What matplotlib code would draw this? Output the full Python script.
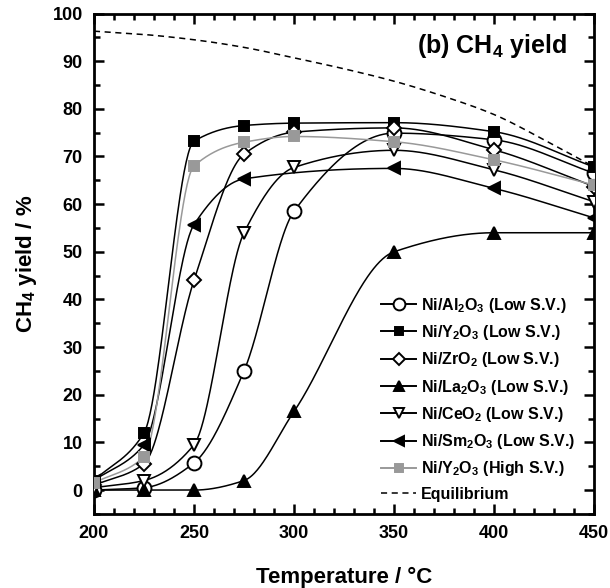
import numpy as np
import matplotlib
matplotlib.use("Agg")
import matplotlib.pyplot as plt
from matplotlib.ticker import MultipleLocator

plt.rcParams['font.family'] = ['Liberation Sans', 'DejaVu Sans']
plt.rcParams['font.weight'] = 'bold'
plt.rcParams['mathtext.fontset'] = 'custom'
plt.rcParams['mathtext.rm'] = 'Liberation Sans:bold'
plt.rcParams['mathtext.bf'] = 'Liberation Sans:bold'
plt.rcParams['mathtext.default'] = 'bf'

temps = [200, 225, 250, 275, 300, 350, 400, 450]
sm_temps = [200, 225, 250, 275, 350, 400, 450]

al2o3 = [0, 0.5, 5.7, 25, 58.5, 74.9, 73.5, 66.5]
y2o3_low = [2, 12, 73.2, 76.5, 77.0, 77.1, 75.2, 67.8]
zro2 = [1, 5.5, 44, 70.5, 75.1, 76, 71.4, 63.7]
la2o3 = [0, 0, 0, 2, 16.5, 50, 54, 54]
ceo2 = [0.5, 2, 9.5, 54, 67.7, 71.3, 67.2, 60.5]
sm2o3 = [2, 9.5, 55.7, 65.3, 67.5, 63.3, 57.1]
y2o3_high = [1.5, 7, 68, 73, 74.2, 73.1, 69.3, 64]

eq_temps = [200, 225, 250, 275, 300, 325, 350, 375, 400, 425, 450]
equilibrium = [96.3, 95.6, 94.5, 92.9, 90.7, 88.4, 85.8, 82.6, 78.8, 73.5, 67.8]


def pchip(x, y, xs):
    # monotone cubic, only used to draw smooth lines between the points
    x = np.asarray(x, float)
    y = np.asarray(y, float)
    h = np.diff(x)
    d = np.diff(y) / h
    n = len(x)
    m = np.zeros(n)
    for k in range(1, n - 1):
        if d[k - 1] * d[k] > 0:
            w1 = 2 * h[k] + h[k - 1]
            w2 = h[k] + 2 * h[k - 1]
            m[k] = (w1 + w2) / (w1 / d[k - 1] + w2 / d[k])
    m[0] = d[0]
    m[-1] = d[-1]
    idx = np.clip(np.searchsorted(x, xs) - 1, 0, n - 2)
    t = (xs - x[idx]) / h[idx]
    h00 = 2 * t**3 - 3 * t**2 + 1
    h10 = t**3 - 2 * t**2 + t
    h01 = -2 * t**3 + 3 * t**2
    h11 = t**3 - t**2
    return h00 * y[idx] + h10 * h[idx] * m[idx] + h01 * y[idx + 1] + h11 * h[idx] * m[idx + 1]


fig = plt.figure(figsize=(6.1, 5.88), dpi=100)
ax = fig.add_axes([0.154, 0.126, 0.820, 0.851])

xs = np.linspace(200, 450, 500)

series = [
    (temps, al2o3, 'Ni/Al$_2$O$_3$ (Low S.V.)', 'o', 'white', 'black', 10),
    (temps, y2o3_low, 'Ni/Y$_2$O$_3$ (Low S.V.)', 's', 'black', 'black', 7),
    (temps, zro2, 'Ni/ZrO$_2$ (Low S.V.)', 'D', 'white', 'black', 7),
    (temps, la2o3, 'Ni/La$_2$O$_3$ (Low S.V.)', '^', 'black', 'black', 8),
    (temps, ceo2, 'Ni/CeO$_2$ (Low S.V.)', 'v', 'white', 'black', 9),
    (sm_temps, sm2o3, 'Ni/Sm$_2$O$_3$ (Low S.V.)', '<', 'black', 'black', 8),
    (temps, y2o3_high, 'Ni/Y$_2$O$_3$ (High S.V.)', 's', '#999999', '#999999', 7),
]

for tt, vals, label, mk, fc, col, ms in series:
    ax.plot(xs, pchip(tt, vals, xs), color=col, lw=1.1, zorder=2)
    ax.plot(tt, vals, ls='none', marker=mk, mfc=fc, mec=col, ms=ms, mew=1.4, zorder=3)
    ax.plot([], [], color=col, lw=1.4, marker=mk, mfc=fc, mec=col, ms=ms * 0.85, mew=1.4, label=label)

ax.plot(xs, pchip(eq_temps, equilibrium, xs), color='black', lw=1.1, ls=(0, (4, 3)),
        label='Equilibrium')

ax.set_xlim(200, 450)
ax.set_ylim(-5, 100)
ax.xaxis.set_major_locator(MultipleLocator(50))
ax.xaxis.set_minor_locator(MultipleLocator(10))
ax.yaxis.set_major_locator(MultipleLocator(10))
ax.yaxis.set_minor_locator(MultipleLocator(5))
ax.tick_params(which='both', direction='in', top=True, right=True, width=1.8)
ax.tick_params(which='major', length=7, labelsize=13, pad=8)
ax.tick_params(which='minor', length=4)
for s in ax.spines.values():
    s.set_linewidth(2.0)

ax.set_xlabel('Temperature / °C', fontsize=16, fontweight='bold', labelpad=18)
ax.set_ylabel('CH$_4$ yield / %', fontsize=16, fontweight='bold', labelpad=10)
ax.text(0.945, 0.935, '(b) CH$_4$ yield', transform=ax.transAxes, ha='right', va='center',
        fontsize=18)

ax.legend(loc='lower right', bbox_to_anchor=(0.985, 0.002), frameon=False, fontsize=11.5,
          handlelength=2.2, handletextpad=0.3, labelspacing=0.52, borderaxespad=0.3)

fig.savefig('out.png', dpi=100)
